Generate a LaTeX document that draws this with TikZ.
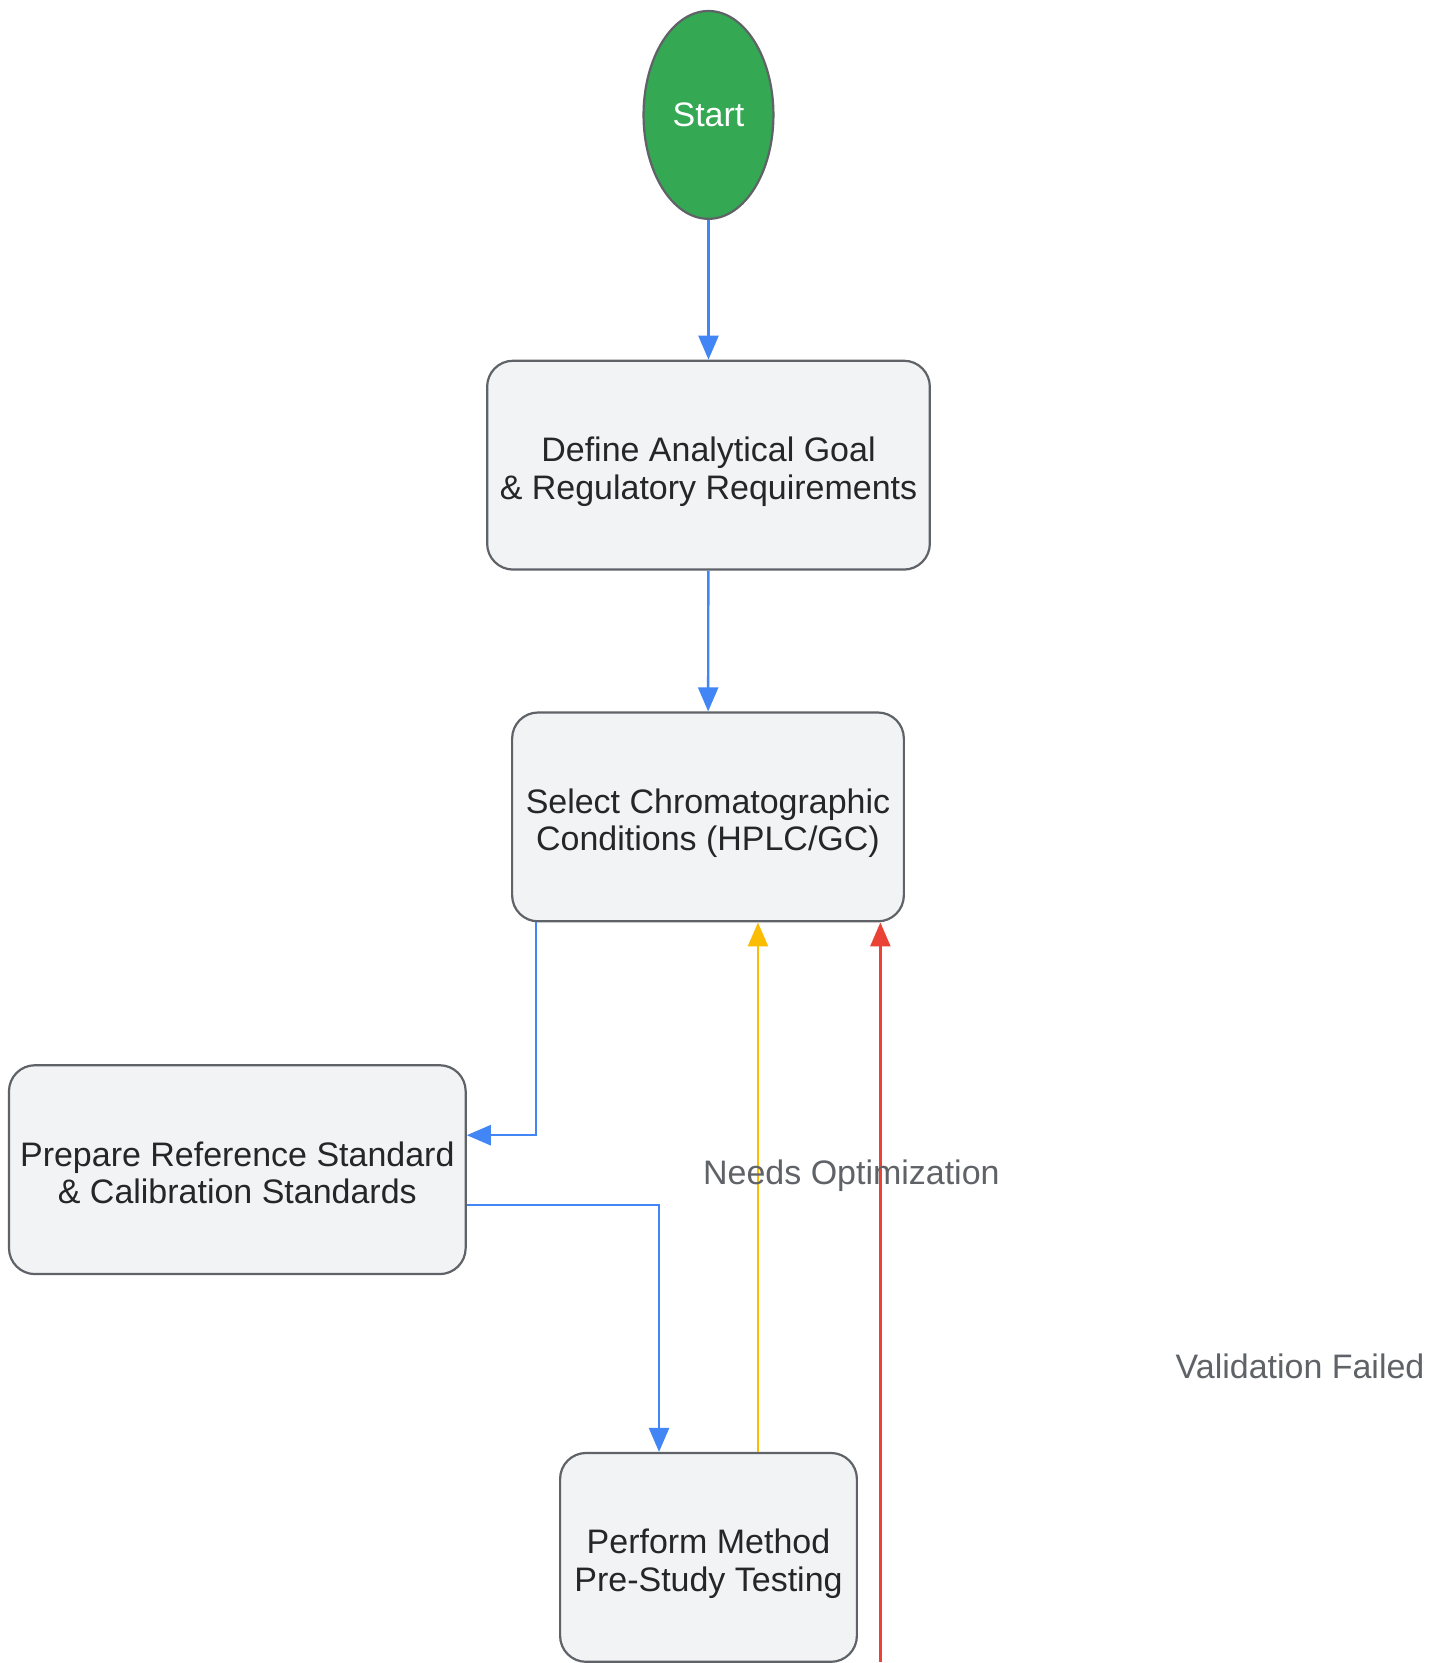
\documentclass[tikz,border=0pt]{standalone}
\usepackage{fontspec}
\setmainfont{Liberation Sans}
\usepackage{tikz}
\usetikzlibrary{arrows.meta, shapes.geometric}
\definecolor{flow}{RGB}{66, 133, 244}
\definecolor{retry}{RGB}{251, 188, 4}
\definecolor{fail}{RGB}{234, 67, 53}
\definecolor{go}{RGB}{52, 168, 83}
\definecolor{edge}{RGB}{95, 99, 104}
\definecolor{boxfill}{RGB}{241, 243, 245}

\begin{document}
\begin{tikzpicture}[x=1pt, y=-1pt,
    stage/.style={draw=edge, line width=2.2pt, fill=boxfill, rounded corners=26pt,
      minimum height=209pt, align=center, inner sep=0pt, text=black!85,
      font=\fontsize{34}{37.5}\selectfont, text height=75pt, text depth=7.2pt},
    start/.style={ellipse, draw=edge, line width=2.2pt, fill=go, minimum width=130pt,
      minimum height=208pt, inner sep=0pt, text=white, font=\fontsize{34}{37.5}\selectfont},
    link/.style={line width=2.4pt, -{Triangle[length=24pt, width=20pt]}},
    tag/.style={text=edge, inner sep=0pt, font=\fontsize{34}{37.5}\selectfont}]

  \fill[white] (0, 0) rectangle (1442, 1663);

  \node[start] (start) at (709, 115) {Start};
  \node[stage, minimum width=443pt] (goal) at (709, 465.5) {Define Analytical Goal\\\& Regulatory Requirements};
  \node[stage, minimum width=392pt] (cond) at (708.5, 817.5) {Select Chromatographic\\Conditions (HPLC/GC)};
  \node[stage, minimum width=457pt] (prep) at (237.5, 1170.5) {Prepare Reference Standard\\\& Calibration Standards};
  \node[stage, minimum width=297pt] (test) at (709, 1558.5) {Perform Method\\Pre-Study Testing};

  \draw[link, flow] (start) -- (goal);
  \draw[link, flow] (goal) -- (cond);
  \draw[link, flow] ([xshift=-172pt]cond.south) |- ([yshift=34.5pt]prep.east);
  \draw[link, flow] ([yshift=-35.5pt]prep.east) -| ([xshift=-49.5pt]test.north);
  \draw[link, retry] ([xshift=49.5pt]test.north) -- ([xshift=49.5pt]test.north |- cond.south);

  \coordinate (low) at (881, 1663);
  \draw[link, fail] (low) -- (low |- cond.south);

  \node[tag] (opt) at (852, 1177) {Needs Optimization};
  \node[tag] (vfail) at (1301, 1367) {Validation Failed};

\end{tikzpicture}
\end{document}
